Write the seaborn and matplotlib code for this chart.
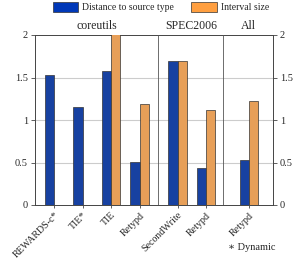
import numpy as np
import pandas as pd
import matplotlib
matplotlib.use("Agg")
import matplotlib.pyplot as plt
from matplotlib.patches import Patch
import seaborn as sns

# ---- data ----
tools = ["REWARDS-c*", "TIE*", "TIE", "Retypd", "SecondWrite", "Retypd", "Retypd"]
distance = [1.53, 1.15, 1.58, 0.51, 1.70, 0.43, 0.53]
interval = [np.nan, np.nan, 2.2, 1.19, 1.70, 1.12, 1.22]
series_names = ["Distance to source type", "Interval size"]
groups = ["coreutils", "SPEC2006", "All"]
yticks = [0, 0.5, 1, 1.5, 2]

# ---- layout ----
positions = [0.67, 1.67, 2.67, 3.67, 5.0, 6.0, 7.5]
separators = [4.33, 6.6]
xlim = (0, 8.35)
group_bounds = [(0, 4.33), (4.33, 6.6), (6.6, 8.35)]
colors = ["#0038b8", "#ff9f40"]

df = pd.DataFrame({
    "pos": positions * 2,
    "value": distance + interval,
    "series": [series_names[0]] * len(tools) + [series_names[1]] * len(tools),
})

sns.set_theme(style="white")
plt.rcParams["font.family"] = ["Liberation Serif", "DejaVu Serif"]
plt.rcParams["font.size"] = 8

fig = plt.figure(figsize=(2.98, 2.63), dpi=100)
ax = fig.add_axes([35 / 298, 1 - 205 / 263, (273 - 35) / 298, 170 / 263])

sns.barplot(data=df, x="pos", y="value", hue="series", native_scale=True,
            palette=colors, width=0.64, dodge=True, edgecolor="#333333",
            linewidth=0.5, legend=False, ax=ax, zorder=3)

ax.set_xlim(*xlim)
ax.set_ylim(0, 2)
ax.set_yticks(yticks)
ax.set_yticklabels([f"{t:g}" for t in yticks])
ax.tick_params(axis="y", which="both", left=True, right=True, labelleft=True,
               labelright=True, length=3, width=0.6, color="#444444",
               labelsize=7.5, pad=2)
ax.set_xticks(positions)
ax.set_xticklabels(tools, rotation=45, ha="right", rotation_mode="anchor",
                   fontsize=7.2)
ax.tick_params(axis="x", bottom=True, length=2, width=0.6, color="#444444", pad=2)
ax.set_xlabel("")
ax.set_ylabel("")

for y in yticks[1:-1]:
    ax.axhline(y, color="#cccccc", lw=0.8, zorder=1)
for s in separators:
    ax.axvline(s, color="#555555", lw=0.6, zorder=4)
for sp in ax.spines.values():
    sp.set_color("#444444")
    sp.set_linewidth(0.7)

for name, (a, b) in zip(groups, group_bounds):
    ax.text((a + b) / 2, 2.03, name, ha="center", va="bottom", fontsize=8.5)

handles = [Patch(facecolor=c, edgecolor="#333333", linewidth=0.5) for c in colors]
fig.legend(handles, series_names, loc="upper center", ncol=2, frameon=False,
           bbox_to_anchor=(0.54, 1.025), fontsize=7, handlelength=2.6,
           handleheight=1.1, columnspacing=1.8, handletextpad=0.4)

fig.text(0.925, 1 - 247 / 263, "\u2217 Dynamic", ha="right", va="center",
         fontsize=7.5, family=["Liberation Serif", "DejaVu Serif", "DejaVu Sans"])

fig.savefig("out.png", dpi=100)
